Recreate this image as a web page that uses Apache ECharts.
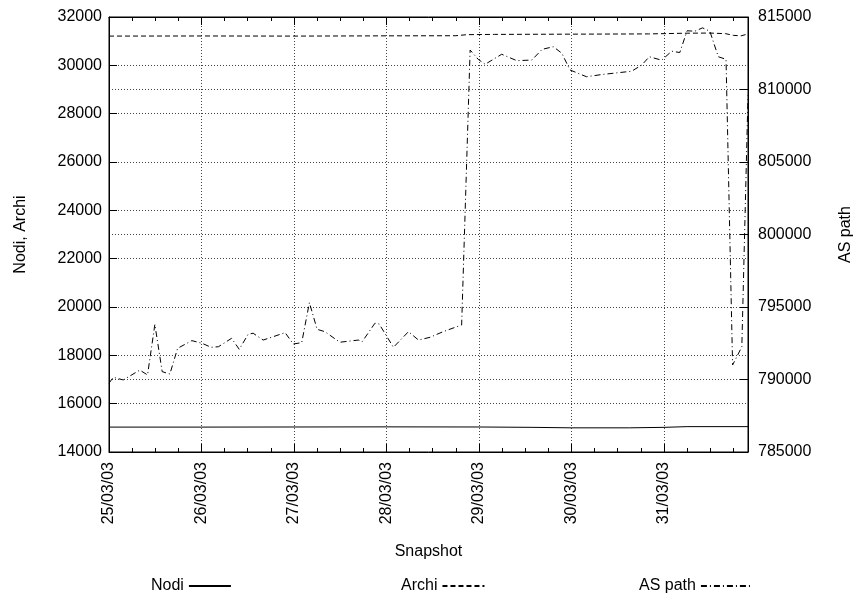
<!DOCTYPE html>
<html>
<head>
<meta charset="utf-8">
<script src="https://cdn.jsdelivr.net/npm/echarts@6/dist/echarts.min.js"></script>
<style>html,body{margin:0;padding:0;background:#fff}#c{width:856px;height:603px}</style>
</head>
<body>
<div id="c"></div>
<script>
// x values are hours since 25/03/03 00:00
const xTickDays = ['25/03/03','26/03/03','27/03/03','28/03/03','29/03/03','30/03/03','31/03/03'];

const nodiHours = [0, 24, 48, 72, 96, 110, 120, 135, 144, 150, 165.8];
const nodi      = [15030, 15030, 15035, 15040, 15035, 15020, 15000, 15000, 15020, 15050, 15050];

const archiHours = [0, 24, 48, 72, 90, 93, 100, 120, 140, 150, 156, 160, 162, 164, 165.8];
const archi      = [31210, 31215, 31210, 31220, 31225, 31270, 31280, 31290, 31300, 31330, 31335, 31310, 31240, 31220, 31300];

const asHours = [0, 1.1, 3.7, 8.0, 10.0, 11.9, 13.8, 15.8, 17.8, 21.5, 24.1, 26.5, 28.4, 31.8, 33.8, 36.1, 37.4, 40.0,
  45.7, 47.8, 50.0, 52.0, 54.0, 56.0, 59.9, 64.7, 65.7, 69.0, 70.1, 73.8, 77.7, 80.3, 83.3, 86.7, 91.5, 91.9,
  93.7, 95.8, 97.6, 101.9, 105.8, 109.7, 112.4, 115.3, 117.5, 119.6, 123.9, 127.8, 135.6, 138.2, 140.2, 143.4,
  146.0, 148.1, 150.0, 152.0, 154.0, 155.9, 158.1, 160.1, 161.8, 162.9, 164.2, 165.8];
const asPath = [789740, 790150, 789970, 790650, 790310, 793800, 790540, 790380, 792150, 792680, 792500, 792220, 792260, 792840, 792080, 793120, 793190, 792720,
  793230, 792450, 792540, 795300, 793460, 793300, 792570, 792720, 792610, 793880, 793830, 792220, 793300, 792720, 792910, 793300, 793760, 793880,
  812720, 812080, 811740, 812430, 811990, 812030, 812770, 812950, 812500, 811350, 810880, 811030, 811260, 811680, 812260, 812020,
  812640, 812550, 814050, 814020, 814250, 814020, 812260, 812080, 791000, 791570, 792260, 809600];

const FONT = 'Liberation Sans';
const FS = 16;
const pairs = (xs, ys) => xs.map((x, i) => [x, ys[i]]);
const gridLine = {show: true, lineStyle: {color: '#444', type: [1, 2], width: 1}};
const axLine = {show: true, onZero: false, lineStyle: {color: '#000', width: 1}};

const chart = echarts.init(document.getElementById('c'), null, {renderer: 'canvas'});
const xCommon = {
  type: 'value', min: 0, max: 165.8, interval: 24,
  axisLine: axLine,
  axisTick: {show: true, inside: true, length: 8, lineStyle: {color: '#000'}},
  minorTick: {show: true, splitNumber: 4, length: 4, lineStyle: {color: '#000'}}
};
const legendCommon = {
  align: 'right', itemHeight: 10, top: 573, selectedMode: false,
  itemStyle: {opacity: 0, borderWidth: 0},
  textStyle: {fontFamily: FONT, fontSize: FS, color: '#000'}
};
chart.setOption({
  animation: false,
  backgroundColor: '#fff',
  textStyle: {fontFamily: FONT},
  grid: {left: 109, right: 108, top: 17, bottom: 151, show: true, borderColor: '#000', borderWidth: 1,
         containLabel: false, outerBoundsMode: 'none'},
  xAxis: [
    Object.assign({}, xCommon, {
      position: 'bottom',
      name: 'Snapshot', nameLocation: 'middle', nameGap: 92,
      nameTextStyle: {fontFamily: FONT, fontSize: FS, color: '#000'},
      axisLabel: {
        rotate: 90, fontFamily: FONT, fontSize: FS, color: '#000', margin: 10,
        formatter: v => { const d = Math.round(v / 24); return (Math.abs(v - d * 24) < 1e-6 && d < xTickDays.length) ? xTickDays[d] : ''; }
      },
      splitLine: gridLine
    }),
    Object.assign({}, xCommon, {position: 'top', axisLabel: {show: false}, splitLine: {show: false}})
  ],
  yAxis: [
    {
      type: 'value', min: 14000, max: 32000, interval: 2000, position: 'left',
      name: 'Nodi, Archi', nameLocation: 'middle', nameGap: 80,
      nameTextStyle: {fontFamily: FONT, fontSize: FS, color: '#000'},
      axisLine: axLine,
      axisTick: {show: true, inside: true, length: 8, lineStyle: {color: '#000'}},
      axisLabel: {fontFamily: FONT, fontSize: FS, color: '#000', margin: 7, formatter: v => String(v)},
      splitLine: gridLine
    },
    {
      type: 'value', min: 785000, max: 815000, interval: 5000, position: 'right',
      name: 'AS path', nameLocation: 'middle', nameGap: 90,
      nameTextStyle: {fontFamily: FONT, fontSize: FS, color: '#000'},
      axisLine: axLine,
      axisTick: {show: true, inside: true, length: 8, lineStyle: {color: '#000'}},
      axisLabel: {fontFamily: FONT, fontSize: FS, color: '#000', margin: 10, formatter: v => String(v)},
      splitLine: gridLine
    }
  ],
  legend: [
    Object.assign({}, legendCommon, {data: ['Nodi'], left: 146, itemWidth: 42, itemGap: 12}),
    Object.assign({}, legendCommon, {data: ['Archi'], left: 396, itemWidth: 42}),
    Object.assign({}, legendCommon, {data: ['AS path'], left: 634, itemWidth: 52})
  ],
  series: [
    {name: 'Nodi', type: 'line', xAxisIndex: 0, yAxisIndex: 0, data: pairs(nodiHours, nodi), showSymbol: false, symbol: 'none',
     lineStyle: {color: '#000', width: 1, type: 'solid'}, itemStyle: {color: '#000'}},
    {name: 'Archi', type: 'line', xAxisIndex: 0, yAxisIndex: 0, data: pairs(archiHours, archi), showSymbol: false, symbol: 'none',
     lineStyle: {color: '#000', width: 1, type: [5, 3]}, itemStyle: {color: '#000'}},
    {name: 'AS path', type: 'line', xAxisIndex: 0, yAxisIndex: 1, data: pairs(asHours, asPath), showSymbol: false, symbol: 'none',
     lineStyle: {color: '#000', width: 1, type: [6, 3, 1, 3]}, itemStyle: {color: '#000'}}
  ]
});
</script>
</body>
</html>
